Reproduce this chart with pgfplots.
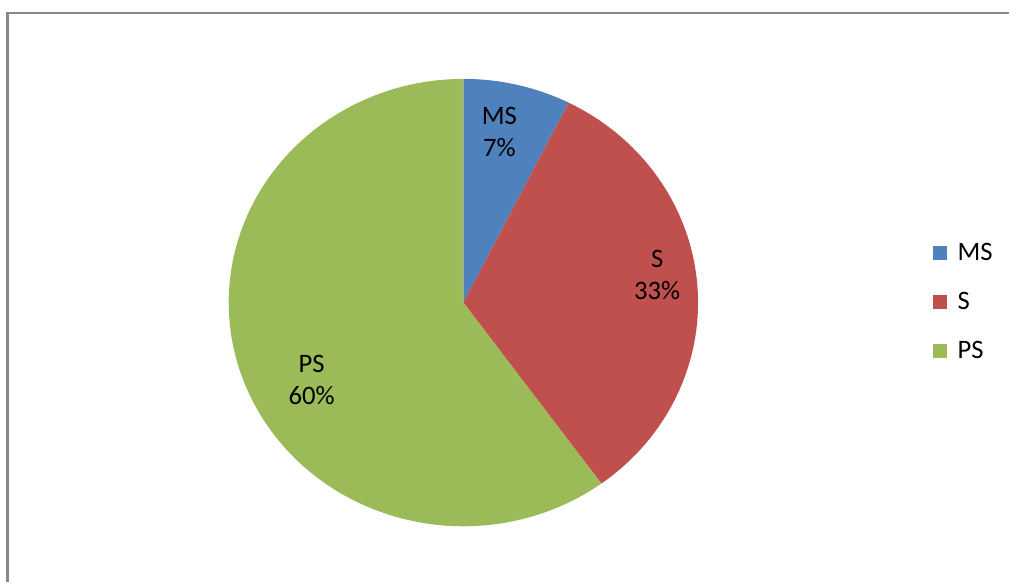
\documentclass[border=0pt]{standalone}
\usepackage{pgfplots}
\usepackage{pgfplotstable}
\pgfplotsset{compat=1.18}
\usepackage{fontspec}
\setmainfont{Carlito}
\definecolor{msblue}{HTML}{4F81BD}
\definecolor{sred}{HTML}{C0504D}
\definecolor{psgreen}{HTML}{9BBB59}
\definecolor{framegray}{HTML}{888888}
\pgfplotstableread{
label value
MS 7.4
S 32.6
PS 60.0
}\piedata
\begin{document}%
\begin{tikzpicture}
\pgfplotstablegetelem{0}{value}\of\piedata \let\vA\pgfplotsretval
\pgfplotstablegetelem{1}{value}\of\piedata \let\vB\pgfplotsretval
\pgfplotstablegetelem{2}{value}\of\piedata \let\vC\pgfplotsretval
\pgfmathsetmacro{\aO}{90}
\pgfmathsetmacro{\aA}{90-3.6*\vA}
\pgfmathsetmacro{\aB}{\aA-3.6*\vB}
\pgfmathsetmacro{\aC}{\aB-3.6*\vC}
\begin{axis}[
  scale only axis, width=757.5pt, height=437.25pt,
  xmin=0, xmax=1010, ymin=0, ymax=583, y dir=reverse,
  hide axis, clip=false,
  legend style={at={(axis cs:934,241)}, anchor=north west, draw=none, fill=none,
    font=\fontsize{20pt}{24pt}\selectfont, row sep=18.3pt, inner sep=0pt,
    /tikz/every odd column/.append style={column sep=6pt}},
  legend cell align=left,
  legend image code/.code={\fill[#1] (0pt,-5.25pt) rectangle (10.5pt,5.25pt);},
]
\addplot[draw=none, forget plot] coordinates {(0,0) (1010,583)};
\addplot[fill=msblue, draw=none, domain=\aA:\aO, samples=40, variable=\t]
  ({464+235*cos(\t)},{303-224*sin(\t)}) -- (axis cs:464,303) -- cycle;
\addlegendentry{MS}
\addplot[fill=sred, draw=none, domain=\aB:\aA, samples=80, variable=\t]
  ({464+235*cos(\t)},{303-224*sin(\t)}) -- (axis cs:464,303) -- cycle;
\addlegendentry{S}
\addplot[fill=psgreen, draw=none, domain=\aC:\aB, samples=120, variable=\t]
  ({464+235*cos(\t)},{303-224*sin(\t)}) -- (axis cs:464,303) -- cycle;
\addlegendentry{PS}
\addplot[draw=framegray, line width=2pt, forget plot] coordinates {(7.5,583) (7.5,13) (1010,13)};
\node[align=center, font=\fontsize{20pt}{24pt}\selectfont] at (axis cs:500,132) {MS\\7\%};
\node[align=center, font=\fontsize{20pt}{24pt}\selectfont] at (axis cs:658,275) {S\\33\%};
\node[align=center, font=\fontsize{20pt}{24pt}\selectfont] at (axis cs:312,380) {PS\\60\%};
\end{axis}
\end{tikzpicture}%
\end{document}
